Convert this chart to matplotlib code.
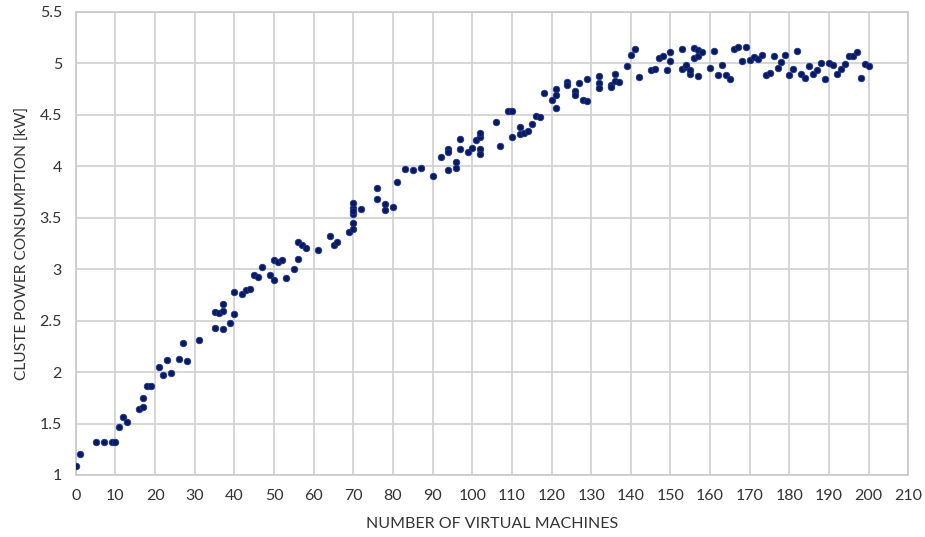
import matplotlib
matplotlib.use("Agg")
import matplotlib.pyplot as plt
import numpy as np

# values
vms = [0, 1, 5, 7, 9, 10, 11, 12, 13, 16, 17, 17, 18, 19, 21, 22, 23, 24, 26, 27, 28, 31,
       35, 35, 36, 37, 37, 37, 39, 40, 40, 42, 43, 44, 45, 46, 47, 49, 50, 50, 51, 52, 53,
       55, 56, 56, 57, 58, 61, 64, 65, 66, 69, 70, 70, 70, 70, 70, 70, 72, 76, 76, 78, 78,
       80, 81, 83, 85, 87, 90, 92, 94, 94, 94, 96, 96, 97, 97, 99, 100, 101, 102, 102, 102,
       102, 106, 107, 109, 110, 110, 112, 112, 113, 114, 115, 116, 117, 118, 120, 121, 121,
       121, 124, 124, 126, 126, 127, 128, 129, 129, 132, 132, 132, 135, 135, 136, 136, 137,
       139, 140, 141, 142, 145, 146, 147, 148, 149, 150, 150, 153, 153, 154, 154, 155, 155,
       156, 156, 157, 157, 157, 158, 160, 161, 162, 163, 164, 165, 166, 167, 168, 169, 170,
       171, 172, 173, 174, 175, 176, 177, 178, 179, 180, 181, 182, 183, 184, 185, 186, 187,
       188, 189, 190, 191, 192, 193, 194, 195, 196, 197, 198, 199, 200]
power = [1.09, 1.20, 1.32, 1.32, 1.32, 1.32, 1.47, 1.56, 1.51, 1.64, 1.66, 1.75, 1.86, 1.86,
         2.05, 1.97, 2.12, 1.99, 2.13, 2.28, 2.11, 2.31, 2.43, 2.58, 2.57, 2.42, 2.59, 2.66,
         2.48, 2.56, 2.78, 2.76, 2.80, 2.81, 2.94, 2.92, 3.02, 2.94, 2.89, 3.09, 3.07, 3.09,
         2.91, 3.00, 3.10, 3.26, 3.23, 3.21, 3.19, 3.32, 3.23, 3.26, 3.36, 3.39, 3.45, 3.54,
         3.59, 3.64, 3.56, 3.58, 3.79, 3.68, 3.63, 3.57, 3.60, 3.85, 3.97, 3.96, 3.98, 3.90,
         4.09, 3.96, 4.17, 4.14, 4.04, 3.98, 4.17, 4.26, 4.14, 4.18, 4.25, 4.28, 4.32, 4.17,
         4.12, 4.43, 4.20, 4.54, 4.54, 4.28, 4.38, 4.31, 4.32, 4.34, 4.41, 4.49, 4.48, 4.71,
         4.64, 4.75, 4.69, 4.57, 4.82, 4.79, 4.73, 4.69, 4.81, 4.64, 4.63, 4.85, 4.88, 4.81,
         4.76, 4.79, 4.77, 4.90, 4.83, 4.82, 4.97, 5.08, 5.14, 4.87, 4.93, 4.94, 5.05, 5.07,
         4.93, 5.11, 5.02, 5.14, 4.94, 4.96, 4.98, 4.90, 4.93, 5.15, 5.05, 5.13, 5.07, 4.88,
         5.11, 4.95, 5.12, 4.89, 4.98, 4.89, 4.85, 5.14, 5.16, 5.02, 5.16, 5.03, 5.06, 5.04,
         5.08, 4.89, 4.91, 5.07, 4.95, 5.01, 5.08, 4.89, 4.94, 5.12, 4.90, 4.86, 4.97, 4.90,
         4.93, 5.00, 4.85, 5.00, 4.98, 4.90, 4.94, 4.99, 5.07, 5.07, 5.11, 4.86, 4.99, 4.97]

x_ticks = np.arange(0, 211, 10)
y_ticks = np.arange(1, 5.51, 0.5)
y_labels = ["1", "1.5", "2", "2.5", "3", "3.5", "4", "4.5", "5", "5.5"]

plt.rcParams['font.family'] = ['Lato', 'DejaVu Sans']

fig = plt.figure(figsize=(9.25, 5.37), dpi=100)
ax = fig.add_axes([0.082, 0.1155, 0.9, 0.8625])

ax.scatter(vms, power, s=22, color='#0b1a5e', edgecolors='#1c3590', linewidths=0.6, zorder=3)

ax.set_xlim(0, 210)
ax.set_ylim(1, 5.5)
ax.set_xticks(x_ticks)
ax.set_yticks(y_ticks)
ax.set_yticklabels(y_labels)
ax.grid(True, color='#d0d0d0', linewidth=1.2)
ax.set_axisbelow(True)
for s in ax.spines.values():
    s.set_color('#c8c8c8')
    s.set_linewidth(1.2)
ax.tick_params(length=0, labelsize=11.5, colors='#333333', pad=10)

ax.set_xlabel("NUMBER OF VIRTUAL MACHINES", fontsize=11.5, color='#333333', labelpad=10)
ax.set_ylabel("CLUSTE POWER CONSUMPTION [kW]", fontsize=11.2, color='#333333', labelpad=7)

fig.savefig("out.png", dpi=100)
